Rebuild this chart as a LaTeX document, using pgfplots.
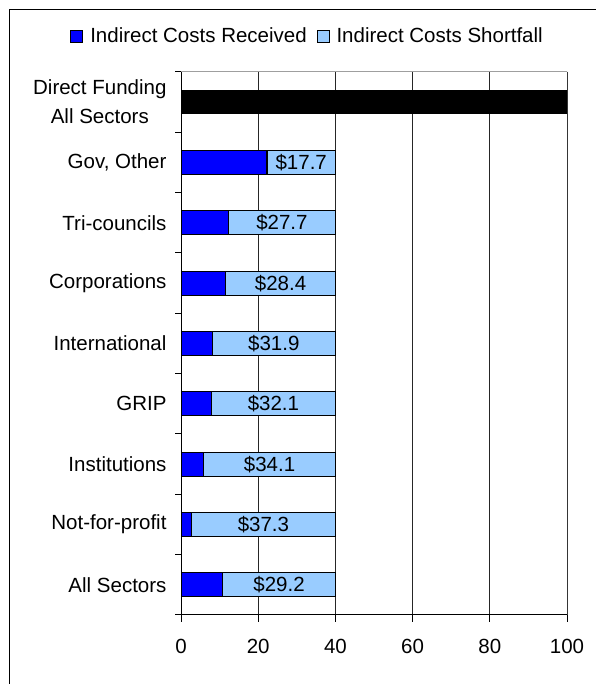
\documentclass[border=0pt]{standalone}
\usepackage{fontspec}
\setmainfont{Liberation Sans}
\usepackage{pgfplots}
\pgfplotsset{compat=1.18}
\definecolor{recv}{RGB}{0,0,255}
\definecolor{short}{RGB}{153,204,255}

\begin{document}
\begin{tikzpicture}
\path[use as bounding box] (0,0) rectangle (595pt,684pt);
\draw[line width=1pt] (9.5pt,-10pt) -- (9.5pt,674.5pt) -- (620pt,674.5pt);
\begin{axis}[
  at={(181pt,69pt)}, anchor=south west,
  scale only axis, width=386pt, height=543pt,
  xbar stacked, bar width=24pt,
  xmin=0, xmax=100, ymin=-0.5, ymax=8.5,
  axis x line*=bottom, axis y line*=left,
  axis line style={black, line width=1pt},
  xtick={0,20,...,100},
  ytick={0,...,8},
  yticklabels={All Sectors, Not-for-profit, Institutions, GRIP, International, Corporations, Tri-councils, {Gov, Other}, {Direct Funding\\All Sectors}},
  minor ytick={-0.5,0.5,...,8.5},
  every major y tick/.style={draw=none},
  tick align=outside,
  major tick length=7pt, minor tick length=6pt,
  tick style={black, line width=1pt},
  xmajorgrids, grid style={black!85, line width=0.8pt},
  /pgf/number format/assume math mode=true,
  xticklabel style={font=\fontsize{20.5}{24}\selectfont, yshift=-14pt},
  yticklabel style={font=\fontsize{20.5}{29}\selectfont, align=center, xshift=-4pt},
  legend style={at={(0.328,1.066)}, anchor=center, draw=none, fill=none,
    legend columns=2, font=\fontsize{20.5}{24}\selectfont,
    /tikz/every odd column/.append style={column sep=5pt},
    /tikz/every even column/.append style={column sep=8pt}},
  legend cell align=left,
]
\addplot[fill=recv, draw=black, line width=1.2pt,
  legend image code/.code={\draw[fill=recv, draw=black, line width=0.8pt] (0pt,-6pt) rectangle (12pt,6pt);}]
  coordinates {(10.8,0) (2.7,1) (5.9,2) (7.9,3) (8.1,4) (11.6,5) (12.3,6) (22.3,7) (0,8)};
\addlegendentry{Indirect Costs Received}
\addplot[fill=short, draw=black, line width=1.2pt,
  nodes near coords, point meta=explicit symbolic,
  nodes near coords align={center},
  every node near coord/.append style={font=\fontsize{20.5}{24}\selectfont, text=black},
  legend image code/.code={\draw[fill=short, draw=black, line width=0.8pt] (0pt,-6pt) rectangle (12pt,6pt);}]
  coordinates {(29.2,0) [\$29.2] (37.3,1) [\$37.3] (34.1,2) [\$34.1] (32.1,3) [\$32.1]
    (31.9,4) [\$31.9] (28.4,5) [\$28.4] (27.7,6) [\$27.7] (17.7,7) [\$17.7] (0,8) [{}]};
\addlegendentry{Indirect Costs Shortfall}
\addplot[fill=black, draw=none, forget plot]
  coordinates {(0,0) (0,1) (0,2) (0,3) (0,4) (0,5) (0,6) (0,7) (100,8)};
\draw[gray!75, line width=1pt] (rel axis cs:0,1) -- (rel axis cs:1,1) -- (rel axis cs:1,0);
\end{axis}
\end{tikzpicture}
\end{document}
